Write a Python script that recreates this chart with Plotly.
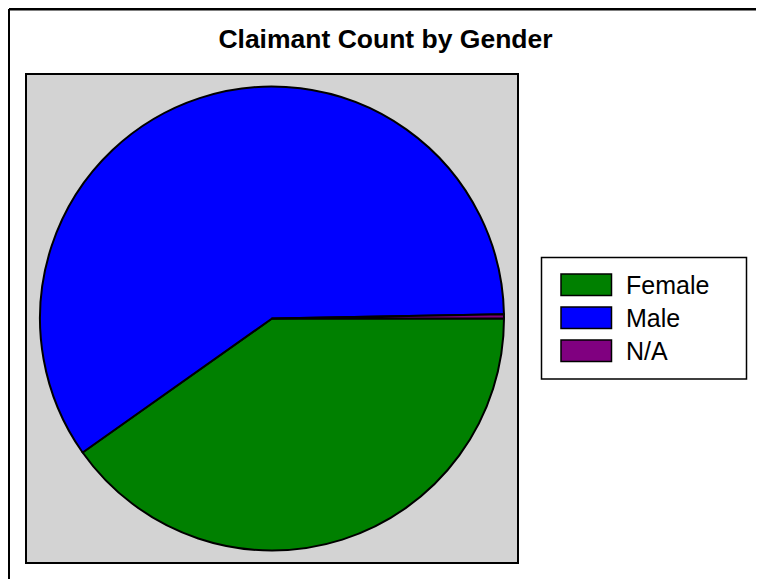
import plotly.graph_objects as go

labels = ["Female", "Male", "N/A"]
counts = [402, 595, 3]
colors = ["#008000", "#0000FF", "#800080"]

# page body has an 8px margin; figure sized to fit the viewport
OFF = 8
W, H = 764 - OFF, 579 - OFF

def px(x):
    return (x - OFF) / W

def py(y):
    return 1 - (y - OFF) / H

fig = go.Figure()
fig.add_trace(go.Pie(
    labels=labels, values=counts, sort=False, direction="clockwise", rotation=90,
    marker=dict(colors=colors, line=dict(color="black", width=2)),
    textinfo="none", hoverinfo="label+value+percent", showlegend=False,
    domain=dict(x=[px(40), px(504)], y=[py(551), py(86)]),
))

shapes = [
    # outer frame (top and left visible), as close to the page corner as possible
    dict(type="line", xref="paper", yref="paper", x0=px(9), x1=1.2, y0=py(9.2), y1=py(9.2),
         line=dict(color="black", width=2.5)),
    dict(type="line", xref="paper", yref="paper", x0=px(9), x1=px(9), y0=py(9), y1=-0.2,
         line=dict(color="black", width=2)),
    # plot background
    dict(type="rect", xref="paper", yref="paper", x0=px(26), x1=px(518), y0=py(563), y1=py(74),
         fillcolor="#D3D3D3", line=dict(color="black", width=2), layer="below"),
    # legend box
    dict(type="rect", xref="paper", yref="paper", x0=px(541.5), x1=px(746.5), y0=py(379), y1=py(257.5),
         fillcolor="white", line=dict(color="black", width=1.5)),
]
annotations = []
for i, (lab, col) in enumerate(zip(labels, colors)):
    top = 274 + 33 * i
    shapes.append(dict(type="rect", xref="paper", yref="paper", x0=px(561), x1=px(611.5),
                       y0=py(top + 21.5), y1=py(top), fillcolor=col,
                       line=dict(color="black", width=1.5)))
    annotations.append(dict(xref="paper", yref="paper", x=px(624), y=py(top + 10.75),
                            xanchor="left", yanchor="middle", text=lab, showarrow=False,
                            font=dict(family="Liberation Sans, Arial", size=25, color="black")))

fig.update_layout(
    width=W, height=H,
    margin=dict(l=0, r=0, t=0, b=0),
    paper_bgcolor="white",
    title=dict(text="<b>Claimant Count by Gender</b>", x=px(385.5), xanchor="center",
               y=py(38.5), yanchor="middle",
               font=dict(family="Liberation Sans, Arial", size=26.5, color="black")),
    shapes=shapes, annotations=annotations,
    showlegend=False,
)
fig.write_html("out.html")
